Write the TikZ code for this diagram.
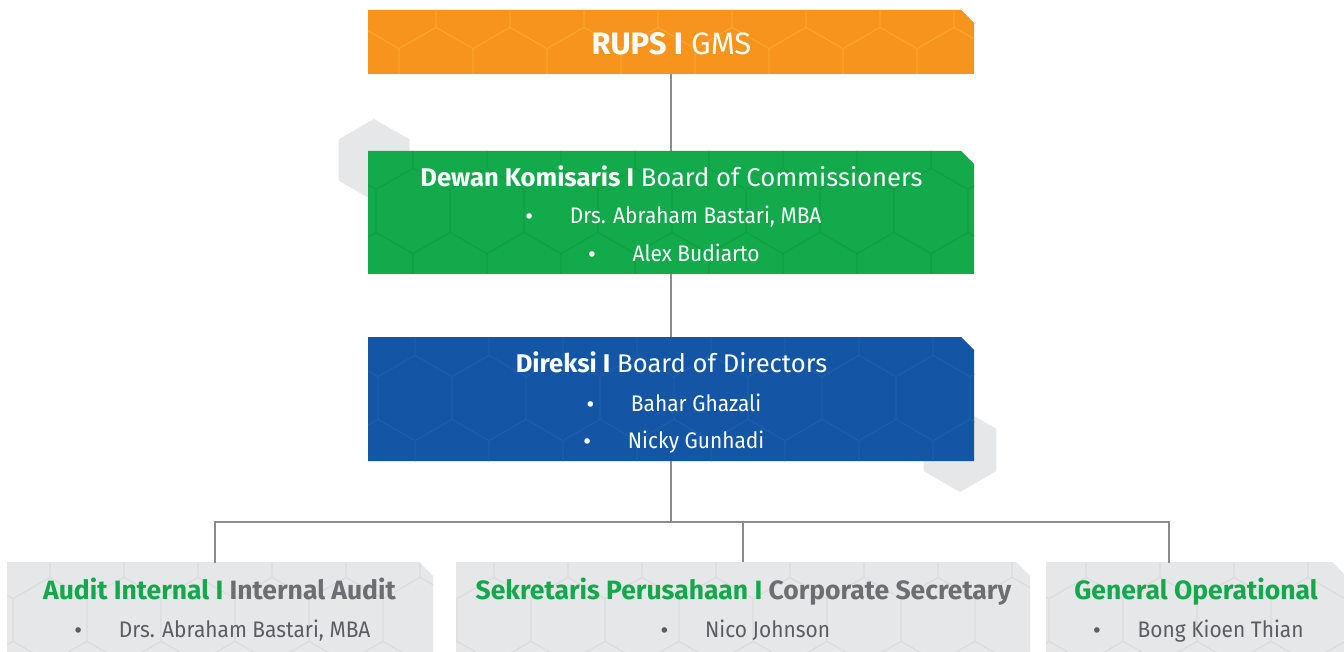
\documentclass[tikz,border=0pt]{standalone}
\usepackage{fontspec}
\setmainfont{Fira Sans}
\newfontfamily\nmfont[FakeStretch=0.93]{Fira Sans}
\newfontfamily\dvfont{DejaVu Sans}
\usetikzlibrary{calc}
\definecolor{orangeC}{HTML}{F7941E}
\definecolor{orangeL}{HTML}{FBA62A}
\definecolor{greenC}{HTML}{12AA4B}
\definecolor{greenL}{HTML}{0FA046}
\definecolor{blueC}{HTML}{1456A5}
\definecolor{blueL}{HTML}{1C5FAC}
\definecolor{grayBox}{HTML}{E6E7E8}
\definecolor{grayL}{HTML}{DADBDC}
\definecolor{lineC}{HTML}{8D8D8D}
\definecolor{titleG}{HTML}{13A84B}
\definecolor{textG}{HTML}{6D6E71}
\definecolor{nameG}{HTML}{5C5D60}
\newcommand\boxpath[2]{(#1.south west) -- (#1.north west) -- ([xshift=-#2pt]#1.north east) -- ([yshift=-#2pt]#1.north east) -- (#1.south east) -- cycle}
\newcommand\hexrow[4]{%
  \foreach \k in {0,...,#3}{%
    \draw[#4] ({#1+74*\k},#2) +(0,-42.7) -- +(37,-21.35) -- +(37,21.35) -- +(0,42.7) -- +(-37,21.35) -- +(-37,-21.35) -- cycle;}}
\tikzset{
  boxn/.style={rectangle, inner sep=0pt, outer sep=0pt, draw=none},
  conn/.style={draw=lineC, line width=2.2pt},
  hexo/.style={draw=orangeL, line width=0.8pt},
  hexg/.style={draw=greenL, line width=0.8pt},
  hexb/.style={draw=blueL, line width=0.8pt},
  hexy/.style={draw=grayL, line width=0.8pt},
  ttl/.style={anchor=base, inner sep=0pt, font=\fontsize{25.6}{30}\selectfont},
  nm/.style={anchor=base, inner sep=0pt, font=\nmfont\fontsize{22.5}{26}\selectfont},
  btl/.style={anchor=base, inner sep=0pt, font=\fontsize{26.5}{30}\selectfont\bfseries},
}
\newcommand\bul{{\dvfont\fontsize{19}{19}\selectfont•}\hspace{35pt}}
\begin{document}
\begin{tikzpicture}[x=1pt,y=-1pt]
\useasboundingbox (0,0) rectangle (1344,652);
\clip (0,0) rectangle (1344,652);
\fill[white] (0,0) rectangle (1344,652);
% background grey hexagons
\fill[grayBox] (374,160) +(0,-41) -- +(35.5,-20.5) -- +(35.5,20.5) -- +(0,41) -- +(-35.5,20.5) -- +(-35.5,-20.5) -- cycle;
\fill[grayBox] (960,450) +(0,-42) -- +(36.4,-21) -- +(36.4,21) -- +(0,42) -- +(-36.4,21) -- +(-36.4,-21) -- cycle;
% box nodes
\node[boxn, minimum width=606pt, minimum height=64pt] (rups) at (671,42) {};
\node[boxn, minimum width=606pt, minimum height=123pt] (bok) at (671,212.5) {};
\node[boxn, minimum width=606pt, minimum height=124pt] (bod) at (671,399) {};
\node[boxn, minimum width=426pt, minimum height=100pt] (ia) at (220,612) {};
\node[boxn, minimum width=574pt, minimum height=100pt] (cs) at (743,612) {};
\node[boxn, minimum width=300pt, minimum height=100pt] (go) at (1196,612) {};
% fills and patterns
\fill[orangeC] \boxpath{rups}{13};
\begin{scope}\clip \boxpath{rups}{13};
  \hexrow{325}{6}{10}{hexo}\hexrow{288}{70}{10}{hexo}
\end{scope}
\fill[greenC] \boxpath{bok}{13};
\begin{scope}\clip \boxpath{bok}{13};
  \hexrow{302}{147}{10}{hexg}\hexrow{265}{211}{11}{hexg}\hexrow{302}{275}{10}{hexg}
\end{scope}
\fill[blueC] \boxpath{bod}{13};
\begin{scope}\clip \boxpath{bod}{13};
  \hexrow{304}{334}{10}{hexb}\hexrow{267}{398}{11}{hexb}\hexrow{304}{462}{10}{hexb}
\end{scope}
\foreach \b in {ia,cs,go}{
  \fill[grayBox] \boxpath{\b}{14};
  \begin{scope}\clip \boxpath{\b}{14};
    \hexrow{-61}{556}{20}{hexy}\hexrow{-98}{620}{20}{hexy}\hexrow{-61}{684}{20}{hexy}
  \end{scope}
}
% connectors
\coordinate (j) at (671,522);
\coordinate (ja) at (215,522);
\coordinate (jc) at (743,522);
\coordinate (jg) at (1169,522);
\draw[conn] (rups.south) -- (bok.north);
\draw[conn] (bok.south) -- (bod.north);
\draw[conn] (bod.south) -- (j);
\draw[conn, line cap=rect] (ja |- ia.north) -- (ja) -- (jg) -- (jg |- go.north);
\draw[conn] (jc) -- (jc |- cs.north);
% texts
\node[ttl, text=white, font=\fontsize{31}{36}\selectfont] (t0) at (671.5,54.3) {\textbf{RUPS I} GMS};
\node[ttl, text=white] (t1) at (671.5,187) {\textbf{Dewan Komisaris I} Board of Commissioners};
\node[nm, text=white] (n11) at (672.5,223.3) {\bul Drs. Abraham Bastari, MBA};
\node[nm, text=white] (n12) at (673,261.7) {\bul Alex Budiarto};
\node[ttl, text=white] (t2) at (671.5,372.7) {\textbf{Direksi I} Board of Directors};
\node[nm, text=white] (n21) at (673,411) {\bul Bahar Ghazali};
\node[nm, text=white] (n22) at (673,448.3) {\bul Nicky Gunhadi};
\node[btl] (t3) at (219.5,599) {\textcolor{titleG}{Audit Internal I} \textcolor{textG}{Internal Audit}};
\node[nm, text=nameG] (n31) at (221.5,637.7) {\bul Drs. Abraham Bastari, MBA};
\node[btl] (t4) at (743.5,599) {\textcolor{titleG}{Sekretaris Perusahaan I} \textcolor{textG}{Corporate Secretary}};
\node[nm, text=nameG] (n41) at (744.5,637.7) {\bul Nico Johnson};
\node[btl, text=titleG] (t5) at (1196,599) {General Operational};
\node[nm, text=nameG] (n51) at (1197.5,637.7) {\bul Bong Kioen Thian};
\end{tikzpicture}
\end{document}
